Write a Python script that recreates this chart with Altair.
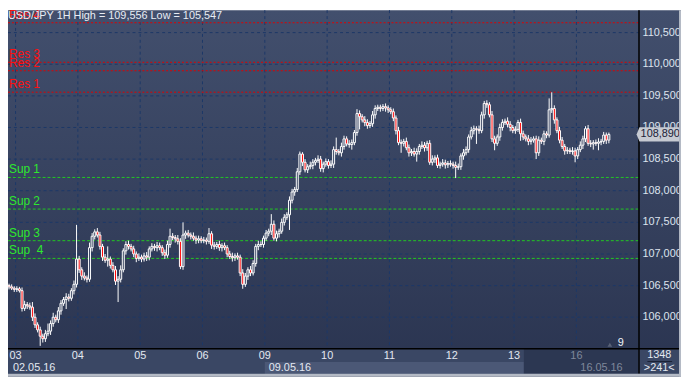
import altair as alt
import pandas as pd

# ---------------- data ----------------
first_open = 106.50

close_0502 = [106.48, 106.46, 106.44]
close_0503 = [106.45, 106.42, 106.14, 106.20, 106.18, 106.16, 106.00, 105.88, 105.80, 105.70, 105.66, 105.74,
              105.78, 105.90, 106.00, 105.96, 106.10, 106.22, 106.28, 106.32, 106.30, 106.42, 106.52, 106.92]
close_0504 = [106.75, 106.65, 106.62, 106.60, 107.10, 107.28, 107.35, 107.30, 107.12, 106.95, 106.90, 106.92,
              106.82, 106.75, 106.57, 106.60, 106.75, 107.05, 107.15, 107.12, 107.08, 107.00, 106.93, 106.95]
close_0505 = [106.92, 106.97, 106.95, 107.08, 107.12, 107.10, 107.13, 107.10, 107.02, 106.98, 107.15, 107.28,
              107.26, 107.24, 107.20, 106.80, 107.30, 107.33, 107.30, 107.28, 107.25, 107.22, 107.24, 107.21]
close_0506 = [107.22, 107.20, 107.32, 107.14, 107.12, 107.15, 107.10, 107.13, 107.10, 107.00, 106.96, 106.94,
              106.97, 106.95, 106.70, 106.52, 106.65, 106.75, 106.70, 106.85, 107.12, 107.15, 107.15, 107.25]
close_0509 = [107.33, 107.36, 107.47, 107.25, 107.32, 107.36, 107.50, 107.58, 107.62, 107.85, 107.98, 108.02,
              108.30, 108.58, 108.45, 108.33, 108.38, 108.40, 108.45, 108.48, 108.50, 108.35, 108.42, 108.46]
close_0510 = [108.40, 108.42, 108.65, 108.62, 108.60, 108.70, 108.82, 108.74, 108.73, 108.76, 108.92, 109.22,
              109.17, 109.12, 109.08, 109.03, 109.06, 109.20, 109.30, 109.32, 109.30, 109.33, 109.31, 109.28]
close_0511 = [109.25, 109.15, 108.95, 108.76, 108.75, 108.78, 108.68, 108.60, 108.62, 108.58, 108.62, 108.70,
              108.72, 108.68, 108.75, 108.45, 108.50, 108.52, 108.40, 108.42, 108.44, 108.41, 108.43, 108.42]
close_0512 = [108.40, 108.37, 108.38, 108.55, 108.60, 108.65, 108.85, 108.95, 108.98, 108.97, 108.95, 109.20,
              109.38, 109.36, 109.20, 108.82, 108.75, 108.85, 109.00, 109.08, 109.10, 109.05, 109.00, 108.95]
close_0513 = [108.97, 109.08, 108.90, 108.85, 108.82, 108.78, 108.80, 108.82, 108.60, 108.80, 108.78, 108.90,
              108.88, 109.28, 109.30, 109.12, 108.95, 108.80, 108.70, 108.63, 108.64, 108.62, 108.63, 108.55]
close_0516 = [108.65, 108.72, 108.82, 108.98, 108.75, 108.74, 108.76, 108.75, 108.77, 108.78, 108.88, 108.80, 108.89]

# upper / lower shadow lengths in pips
wick_up = [3, 4, 3,
           4, 3, 5, 6, 4, 5, 8, 6, 4, 5, 4, 6, 12, 5, 7, 4, 6, 5, 4, 6, 5, 4, 6, 54,
           5, 4, 6, 4, 8, 5, 4, 6, 5, 4, 5, 20, 4, 5, 6, 5, 7, 4, 5, 6, 4, 5, 4, 6,
           4, 5, 6, 4, 5, 4, 6, 5, 4, 5, 6, 12, 5, 4, 6, 5, 20, 4, 5, 4, 6, 4, 5, 4,
           5, 4, 9, 4, 5, 4, 6, 4, 5, 4, 5, 6, 4, 5, 4, 6, 5, 4, 6, 5, 4, 6, 5, 4,
           5, 4, 16, 6, 5, 4, 6, 5, 4, 6, 5, 4, 6, 4, 3, 5, 4, 6, 5, 4, 6, 5, 4, 5,
           4, 6, 5, 19, 4, 6, 5, 4, 6, 5, 4, 7, 5, 4, 6, 5, 4, 6, 5, 4, 4, 4, 5, 4,
           4, 5, 4, 6, 5, 4, 6, 5, 4, 6, 5, 4, 6, 5, 4, 5, 6, 4, 5, 4, 6, 5, 4, 5,
           4, 6, 5, 4, 6, 5, 4, 6, 5, 4, 6, 5, 4, 5, 4, 6, 5, 4, 6, 5, 4, 6, 5, 4,
           5, 4, 6, 5, 4, 6, 5, 4, 5, 6, 4, 5, 4, 18, 25.6, 5, 4, 6, 5, 4, 5, 4, 6, 5,
           4, 6, 5, 4, 6, 5, 4, 5, 6, 4, 5, 4, 3]
wick_down = [4, 3, 4,
             4, 3, 5, 4, 5, 4, 6, 5, 4, 15.3, 6, 5, 4, 6, 5, 4, 5, 6, 4, 15, 5, 4, 6, 5,
             5, 6, 4, 5, 4, 6, 5, 4, 5, 6, 4, 10, 5, 4, 6, 33, 5, 4, 6, 5, 4, 5, 6, 4,
             5, 4, 6, 5, 4, 5, 6, 4, 5, 6, 4, 5, 4, 6, 5, 4, 5, 6, 4, 5, 4, 6, 5, 4,
             4, 5, 4, 6, 5, 4, 5, 6, 4, 5, 4, 6, 5, 4, 5, 7, 4, 6, 5, 4, 5, 6, 4, 5,
             4, 5, 6, 4, 5, 6, 4, 5, 4, 24, 5, 6, 4, 5, 6, 4, 5, 4, 6, 5, 4, 5, 6, 4,
             5, 4, 6, 5, 4, 6, 5, 4, 5, 8, 4, 5, 20, 4, 6, 5, 4, 5, 6, 4, 5, 4, 6, 5,
             4, 5, 6, 4, 15, 5, 4, 6, 5, 4, 12, 5, 4, 6, 5, 4, 5, 6, 4, 5, 4, 6, 5, 4,
             5, 17, 4, 5, 6, 4, 5, 4, 6, 23, 5, 4, 6, 5, 4, 5, 11, 4, 6, 5, 4, 5, 6, 4,
             5, 4, 11, 5, 4, 6, 5, 4, 10, 5, 4, 6, 5, 4, 5, 6, 4, 5, 4, 6, 5, 4, 5, 10,
             5, 4, 6, 5, 4, 5, 9, 4, 11, 5, 4, 6, 5]

day_labels = ["03", "04", "05", "06", "09", "10", "11", "12", "13", "16"]
date_labels = ["02.05.16", "09.05.16", "16.05.16"]

price_ticks = [106.0, 106.5, 107.0, 107.5, 108.0, 108.5, 109.0, 109.5, 110.0, 110.5]
price_tick_labels = ["106,000", "106,500", "107,000", "107,500", "108,000",
                     "108,500", "109,000", "109,500", "110,000", "110,500"]

res_levels = [109.558, 109.897, 110.031, 110.656]
res_names = ["Res 1", "Res 2", "Res 3", "Res 4"]
sup_levels = [108.21, 107.71, 107.21, 106.93]
sup_names = ["Sup 1", "Sup 2", "Sup 3", "Sup \u00a04"]

last_price = 108.89
last_price_label = "108,890"
title_text = "USD/JPY 1H High = 109,556 Low = 105,547"

# ---------------- build tables ----------------
days = [close_0502, close_0503, close_0504, close_0505, close_0506, close_0509,
        close_0510, close_0511, close_0512, close_0513, close_0516]
closes = [c for d in days for c in d]
opens = [first_open] + closes[:-1]
rows = []
for i, (o, c) in enumerate(zip(opens, closes)):
    rows.append({"i": i, "open": o, "close": c,
                 "high": max(o, c) + wick_up[i] / 100.0,
                 "low": min(o, c) - wick_down[i] / 100.0,
                 "down": c < o})
candles = pd.DataFrame(rows)

starts = []
n = 0
for d in days:
    starts.append(n)
    n += len(d)
bounds = [s - 0.5 for s in starts[1:]]
days_df = pd.DataFrame({"b": bounds, "lab": day_labels,
                        "col": ["#e4e9f2"] * 9 + ["#7f889b"]})
dates_df = pd.DataFrame({"b": [0, bounds[4], bounds[9]], "lab": date_labels,
                         "col": ["#e4e9f2", "#e4e9f2", "#7f889b"]})
ticks_df = pd.DataFrame({"p": price_ticks, "lab": price_tick_labels})
res_df = pd.DataFrame({"p": res_levels, "lab": res_names})
sup_df = pd.DataFrame({"p": sup_levels, "lab": sup_names})
last_df = pd.DataFrame({"p": [last_price], "lab": [last_price_label]})
one = pd.DataFrame({"k": [0]})

# ---------------- scales ----------------
W, H = 681, 371
PLOT_R, PLOT_B = 638, 342
XS = alt.Scale(domain=[1.5, 256.875], nice=False, zero=False)
YS = alt.Scale(domain=[105.0578, 110.8547], nice=False, zero=False)
FONT = "Liberation Sans Narrow, Arial Narrow, Liberation Sans, Arial, sans-serif"


def X(f):
    return alt.X(f, type="quantitative", scale=XS, axis=None)


def Y(f):
    return alt.Y(f, type="quantitative", scale=YS, axis=None)


grad = alt.Gradient(gradient="linear",
                    stops=[alt.GradientStop(color="#424f6d", offset=0),
                           alt.GradientStop(color="#2a3450", offset=1)],
                    x1=1, x2=1, y1=0, y2=1)

bg = alt.Chart(one).mark_rect(color=grad).encode(
    x=alt.value(0), x2=alt.value(W), y=alt.value(0), y2=alt.value(H))

bottom_panel = alt.Chart(one).mark_rect(color="#3a4764").encode(
    x=alt.value(0), x2=alt.value(W), y=alt.value(PLOT_B), y2=alt.value(368))
light_box = alt.Chart(pd.DataFrame({"b": [bounds[4]]})).mark_rect(color="#4b5876").encode(
    x=X("b"), x2=alt.value(522), y=alt.value(356), y2=alt.value(368))
dark_box = alt.Chart(one).mark_rect(color="#2c3752").encode(
    x=alt.value(522), x2=alt.value(PLOT_R), y=alt.value(PLOT_B), y2=alt.value(368))
border_b = alt.Chart(one).mark_rect(color="#b4bac5").encode(
    x=alt.value(0), x2=alt.value(W), y=alt.value(368), y2=alt.value(H))
border_r = alt.Chart(one).mark_rect(color="#b4bac5").encode(
    x=alt.value(679), x2=alt.value(W), y=alt.value(0), y2=alt.value(H))

hgrid = alt.Chart(ticks_df).mark_rule(color="#1c3868", strokeDash=[3, 3], strokeWidth=1).encode(
    y=Y("p"), x=alt.value(0), x2=alt.value(PLOT_R))
vgrid = alt.Chart(days_df).mark_rule(color="#1c3868", strokeDash=[3, 3], strokeWidth=1).encode(
    x=X("b"), y=alt.value(0), y2=alt.value(PLOT_B))

res_lines = alt.Chart(res_df).mark_rule(color="#e00000", strokeDash=[2, 2], strokeWidth=1).encode(
    y=Y("p"), x=alt.value(0), x2=alt.value(PLOT_R))
sup_lines = alt.Chart(sup_df).mark_rule(color="#22c822", strokeDash=[3, 2], strokeWidth=1).encode(
    y=Y("p"), x=alt.value(0), x2=alt.value(PLOT_R))
res_text = alt.Chart(res_df).mark_text(color="#ff1010", align="left", baseline="middle",
                                       dy=-8, fontSize=12, font=FONT).encode(
    y=Y("p"), x=alt.value(1), text="lab:N")
sup_text = alt.Chart(sup_df).mark_text(color="#2ee82e", align="left", baseline="middle",
                                       dy=-8, fontSize=12, font=FONT).encode(
    y=Y("p"), x=alt.value(1), text="lab:N")

wicks = alt.Chart(candles).mark_rule(color="white", strokeWidth=1, clip=True).encode(
    x=X("i"), y=Y("low"), y2="high:Q")
bodies = alt.Chart(candles).mark_bar(size=2, stroke="white", strokeWidth=1, clip=True).encode(
    x=X("i"), y=Y("open"), y2="close:Q",
    fill=alt.condition("datum.down", alt.value("#ff0000"), alt.value("#36425f")))

vline = alt.Chart(one).mark_rule(color="#000000", strokeWidth=1.5).encode(
    x=alt.value(638.5), y=alt.value(0), y2=alt.value(368))
hline = alt.Chart(one).mark_rule(color="#000000", strokeWidth=1.5).encode(
    x=alt.value(0), x2=alt.value(679), y=alt.value(342.5))

price_text = alt.Chart(ticks_df).mark_text(color="#dde3ee", align="left", baseline="middle",
                                           fontSize=11, font=FONT).encode(
    y=Y("p"), x=alt.value(642), text="lab:N")
box_shape = "M-1.15,0 L-1,-0.36 L1,-0.36 L1,0.36 L-1,0.36 Z"
price_box = alt.Chart(last_df).mark_point(shape=box_shape, size=1600, filled=True,
                                          color="#c6cad2", opacity=1).encode(
    y=Y("p"), x=alt.value(659))
price_box_text = alt.Chart(last_df).mark_text(color="#1b2238", align="center", baseline="middle",
                                              fontSize=11, font=FONT).encode(
    y=Y("p"), x=alt.value(660), text="lab:N")

day_text = alt.Chart(days_df).mark_text(align="center", baseline="middle", fontSize=11, font=FONT).encode(
    x=X("b"), y=alt.value(350), text="lab:N", color=alt.Color("col:N", scale=None))
date_text = alt.Chart(dates_df).mark_text(align="left", baseline="middle", fontSize=11, font=FONT, dx=4).encode(
    x=X("b"), y=alt.value(362), text="lab:N", color=alt.Color("col:N", scale=None))

count_df = pd.DataFrame({"lab": ["1348", ">241<"], "yy": [349, 362]})
count_text = alt.Chart(count_df).mark_text(color="#e4e9f2", align="center", baseline="middle",
                                           fontSize=11, font=FONT).encode(
    x=alt.value(659), y=alt.Y("yy:Q", scale=None), text="lab:N")
count_rule = alt.Chart(one).mark_rule(color="#1a2236", strokeWidth=1).encode(
    x=alt.value(647), x2=alt.value(672), y=alt.value(355.5))

nine_tri = alt.Chart(one).mark_point(shape="triangle-up", size=22, filled=True, color="#6c7588").encode(
    x=alt.value(609), y=alt.value(338.5))
nine_text = alt.Chart(pd.DataFrame({"lab": ["9"]})).mark_text(
    color="#eef2f8", align="center", baseline="middle", fontSize=11, font=FONT).encode(
    x=alt.value(620), y=alt.value(337), text="lab:N")

title = alt.Chart(pd.DataFrame({"lab": [title_text]})).mark_text(
    color="#e8ecf4", align="left", baseline="top", fontSize=11, font=FONT).encode(
    x=alt.value(0), y=alt.value(0), text="lab:N")

chart = alt.layer(
    bg, bottom_panel, light_box, dark_box,
    hgrid, vgrid, res_lines, sup_lines, res_text, sup_text,
    wicks, bodies,
    vline, hline, price_text, price_box, price_box_text,
    day_text, date_text, count_text, count_rule, nine_tri, nine_text, title,
    border_b, border_r,
).properties(
    width=W, height=H, padding=0, autosize=alt.AutoSizeParams(type="none"),
    background="#ffffff",
).configure_view(stroke=None)

chart.save("out.html", embed_options={"renderer": "svg", "actions": False})
